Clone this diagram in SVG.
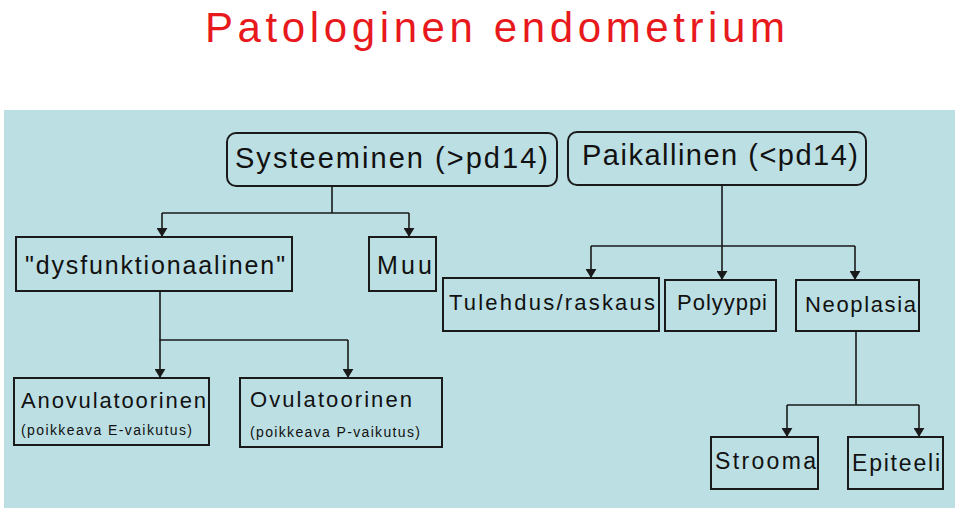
<svg xmlns="http://www.w3.org/2000/svg" width="960" height="510" viewBox="0 0 960 510">
<defs>
<marker id="a" viewBox="0 0 10 12" markerWidth="9" markerHeight="11" refX="10" refY="6" orient="auto" markerUnits="userSpaceOnUse"><path d="M0,0 L10,6 L0,12 Z" fill="#1a1a1a"/></marker>
<style>
.b{fill:none;stroke:#1a1a1a;stroke-width:2}
.t{font-family:"Liberation Sans",Arial,sans-serif;fill:#111}
.c{fill:none;stroke:#1a1a1a;stroke-width:1.6}
</style>
</defs>
<rect width="960" height="510" fill="#fff"/>
<rect x="4" y="110" width="951" height="398" fill="#bcdfe3"/>
<text x="205" y="42" textLength="580" lengthAdjust="spacing" class="t" style="fill:#e8191c;font-size:42px">Patologinen endometrium</text>
<g id="connectors">
<path class="c" d="M332,186 V213 M162,213 H409"/>
<path class="c" marker-end="url(#a)" d="M162,213 V237"/>
<path class="c" marker-end="url(#a)" d="M409,213 V237"/>
<path class="c" d="M722,185 V246 M591,246 H855"/>
<path class="c" marker-end="url(#a)" d="M591,246 V278"/>
<path class="c" marker-end="url(#a)" d="M722,246 V280"/>
<path class="c" marker-end="url(#a)" d="M855,246 V280"/>
<path class="c" d="M160,291 V340 H348"/>
<path class="c" marker-end="url(#a)" d="M160,340 V378"/>
<path class="c" marker-end="url(#a)" d="M348,340 V378"/>
<path class="c" d="M856,331 V405 M787,405 H919"/>
<path class="c" marker-end="url(#a)" d="M787,405 V437"/>
<path class="c" marker-end="url(#a)" d="M919,405 V437"/>
</g>
<g id="systeeminen"><rect class="b" x="227" y="133" width="330" height="53" rx="9"/><text class="t" x="235" y="168" textLength="313" lengthAdjust="spacing" font-size="29">Systeeminen (&gt;pd14)</text></g>
<g id="paikallinen"><rect class="b" x="568" y="132" width="298" height="53" rx="9"/><text class="t" x="582" y="165" textLength="276" lengthAdjust="spacing" font-size="29">Paikallinen (&lt;pd14)</text></g>
<g id="dysfunktionaalinen"><rect class="b" x="16" y="237" width="276" height="54"/><text class="t" x="25" y="274" textLength="260" lengthAdjust="spacing" font-size="25">"dysfunktionaalinen"</text></g>
<g id="muu"><rect class="b" x="369" y="237" width="67" height="54"/><text class="t" x="377" y="274" textLength="55" lengthAdjust="spacing" font-size="25">Muu</text></g>
<g id="tulehdus"><rect class="b" x="443" y="278" width="216" height="53"/><text class="t" x="449" y="310" textLength="206" lengthAdjust="spacing" font-size="22">Tulehdus/raskaus</text></g>
<g id="polyyppi"><rect class="b" x="665" y="280" width="111" height="51"/><text class="t" x="677" y="310" textLength="90" lengthAdjust="spacing" font-size="22">Polyyppi</text></g>
<g id="neoplasia"><rect class="b" x="796" y="280" width="123" height="51"/><text class="t" x="805" y="312" textLength="111" lengthAdjust="spacing" font-size="22">Neoplasia</text></g>
<g id="anovulatoorinen"><rect class="b" x="14" y="378" width="195" height="67"/><text class="t" x="21" y="408" textLength="185" lengthAdjust="spacing" font-size="22">Anovulatoorinen</text><text class="t" x="21" y="435" textLength="171" lengthAdjust="spacing" font-size="14">(poikkeava E-vaikutus)</text></g>
<g id="ovulatoorinen"><rect class="b" x="240" y="378" width="202" height="69"/><text class="t" x="250" y="407" textLength="162" lengthAdjust="spacing" font-size="22">Ovulatoorinen</text><text class="t" x="250" y="437" textLength="170" lengthAdjust="spacing" font-size="14">(poikkeava P-vaikutus)</text></g>
<g id="strooma"><rect class="b" x="711" y="437" width="107" height="52"/><text class="t" x="715" y="469" textLength="101" lengthAdjust="spacing" font-size="23">Strooma</text></g>
<g id="epiteeli"><rect class="b" x="848" y="437" width="95" height="52"/><text class="t" x="852" y="471" textLength="88" lengthAdjust="spacing" font-size="23">Epiteeli</text></g>
</svg>
